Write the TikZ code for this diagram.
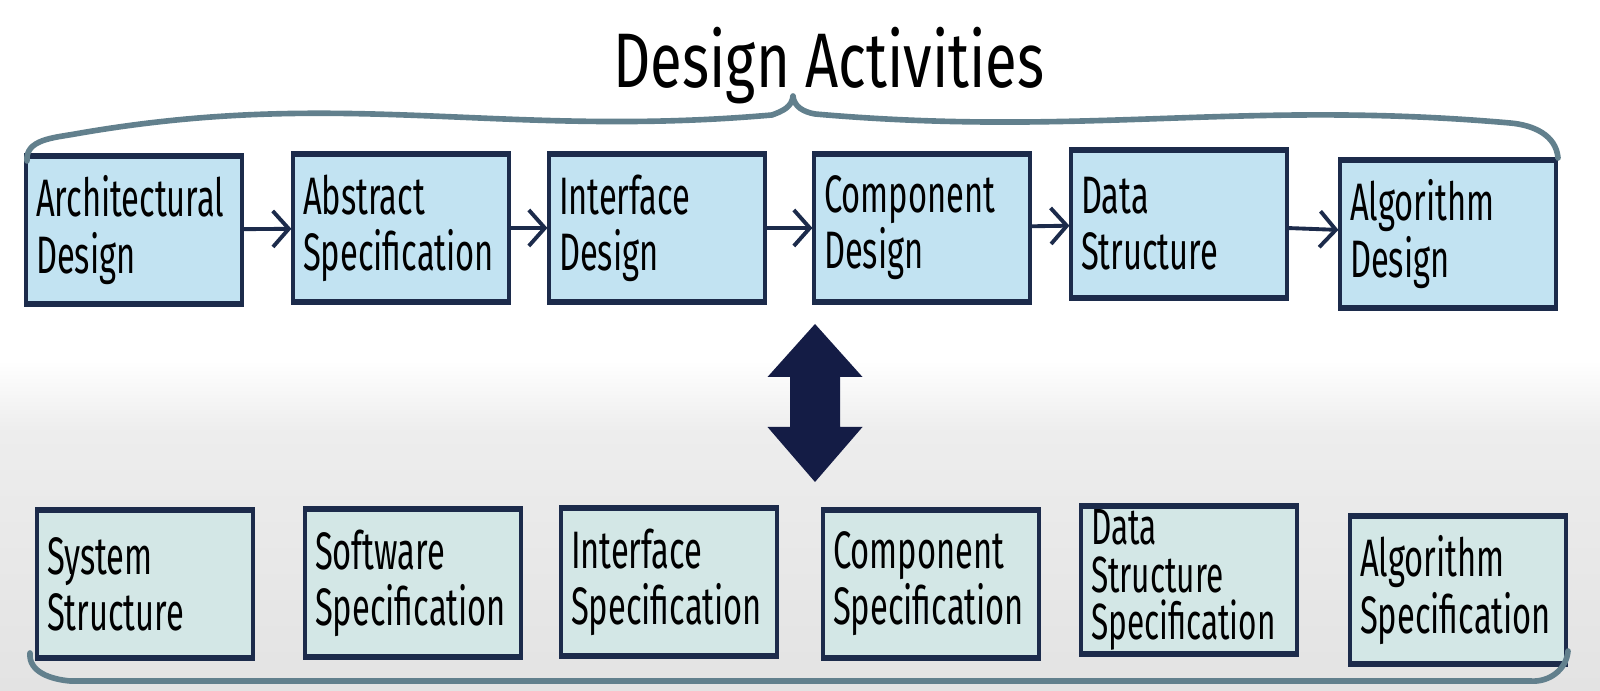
\documentclass[tikz,border=0pt]{standalone}
\usepackage{fontspec}
\usepackage{tikz}
\usetikzlibrary{arrows.meta,positioning}
\newfontfamily\handfont[FakeStretch=0.62]{Fira Sans}
\newfontfamily\titlefont[FakeStretch=0.75]{Fira Sans}
\definecolor{sky}     {HTML}{C2E3F2}
\definecolor{sage}    {HTML}{D3E7E6}
\definecolor{navy}    {HTML}{1C2B4B}
\definecolor{slate}   {HTML}{62808D}
\definecolor{deepnavy}{HTML}{141C45}
\definecolor{haze}    {HTML}{EDEDED}
\definecolor{hazedark}{HTML}{E3E3E3}
\hyphenpenalty=10000
\tikzset{
  actbox/.style={draw=navy,line width=0.9pt,minimum width=2.16cm,minimum height=1.45cm,
                 text width=1.96cm,inner sep=0.1cm,align=left,
                 font=\handfont\fontsize{15}{16}\selectfont},
  designbox/.style={actbox,fill=sky},
  specbox/.style={actbox,fill=sage},
  rimline/.style={draw=navy,line width=1.8pt},
  flow/.style={draw=navy,line width=1.1pt,-{Straight Barb[length=1.6mm,width=3.6mm,line width=1.1pt]}},
  brace/.style={draw=slate,line width=1.6pt,line cap=round,line join=round},
}

\begin{document}
\begin{tikzpicture}
  \useasboundingbox (0,0) rectangle (16,6.91);
  % background
  \fill[white] (0,0) rectangle (16,6.91);
  \shade[bottom color=haze,top color=white] (0,2.6) rectangle (16,3.3);
  \shade[bottom color=hazedark,top color=haze] (0,0) rectangle (16,2.6);

  \node[font=\titlefont\fontsize{22}{24}\selectfont,anchor=base] (title) at (8.29,6.03) {Design Activities};

  % design activities
  \node[designbox] (arch) at (1.34,4.61)  {Architectural\\Design};
  \node[designbox] (abst) at (4.01,4.63)  {Abstract\\Specification};
  \node[designbox] (intf) at (6.57,4.63)  {Interface\\Design};
  \node[designbox] (comp) at (9.22,4.63)  {Component\\Design};
  \node[designbox] (data) at (11.79,4.67) {Data\\Structure};
  \node[designbox] (algo) at (14.48,4.57) {Algorithm\\Design};

  % design products
  \node[specbox] (sys)      at (1.45,1.07)  {System\\Structure};
  \node[specbox] (soft)     at (4.13,1.08)  {Software\\Specification};
  \node[specbox] (ifspec)   at (6.69,1.09)  {Interface\\Specification};
  \node[specbox] (compspec) at (9.31,1.07)  {Component\\Specification};
  \node[specbox,inner ysep=0pt,font=\handfont\fontsize{14.5}{13.5}\selectfont]
       (dataspec) at (11.89,1.11) {Data\\Structure\\Specification};
  \node[specbox] (algospec) at (14.58,1.01) {Algorithm\\Specification};

  \foreach \n in {arch,abst,intf,comp,data,algo,sys,soft,ifspec,compspec,dataspec,algospec}
    \draw[rimline] (\n.north west) -- (\n.north east) (\n.south west) -- (\n.south east);

  \draw[flow] (arch) -- (abst);
  \draw[flow] (abst) -- (intf);
  \draw[flow] (intf) -- (comp);
  \draw[flow] (comp) -- (data);
  \draw[flow] (data) -- (algo);

  % braces
  \draw[brace] (0.27,5.3) to[out=95,in=190] (0.75,5.57) to[out=10,in=185] (7.72,5.76)
               to[out=20,in=-95] (7.93,5.95) to[out=-85,in=170] (8.15,5.77)
               to[out=-5,in=175] (15.1,5.68) to[out=-5,in=95] (15.58,5.33);
  \draw[brace] (0.3,0.38) to[out=-95,in=175] (0.7,0.1) -- (15.3,0.1) to[out=-5,in=-95] (15.68,0.4);

  % two-way link
  \coordinate (link) at (8.15,2.88);
  \fill[deepnavy,line join=round] (link) ++(0,0.79) -- ++(0.475,-0.53) -- ++(-0.225,0)
       -- ++(0,-0.5) -- ++(0.225,0) -- ++(-0.475,-0.55) -- ++(-0.475,0.55) -- ++(0.225,0)
       -- ++(0,0.5) -- ++(-0.225,0) -- cycle;
\end{tikzpicture}
\end{document}
